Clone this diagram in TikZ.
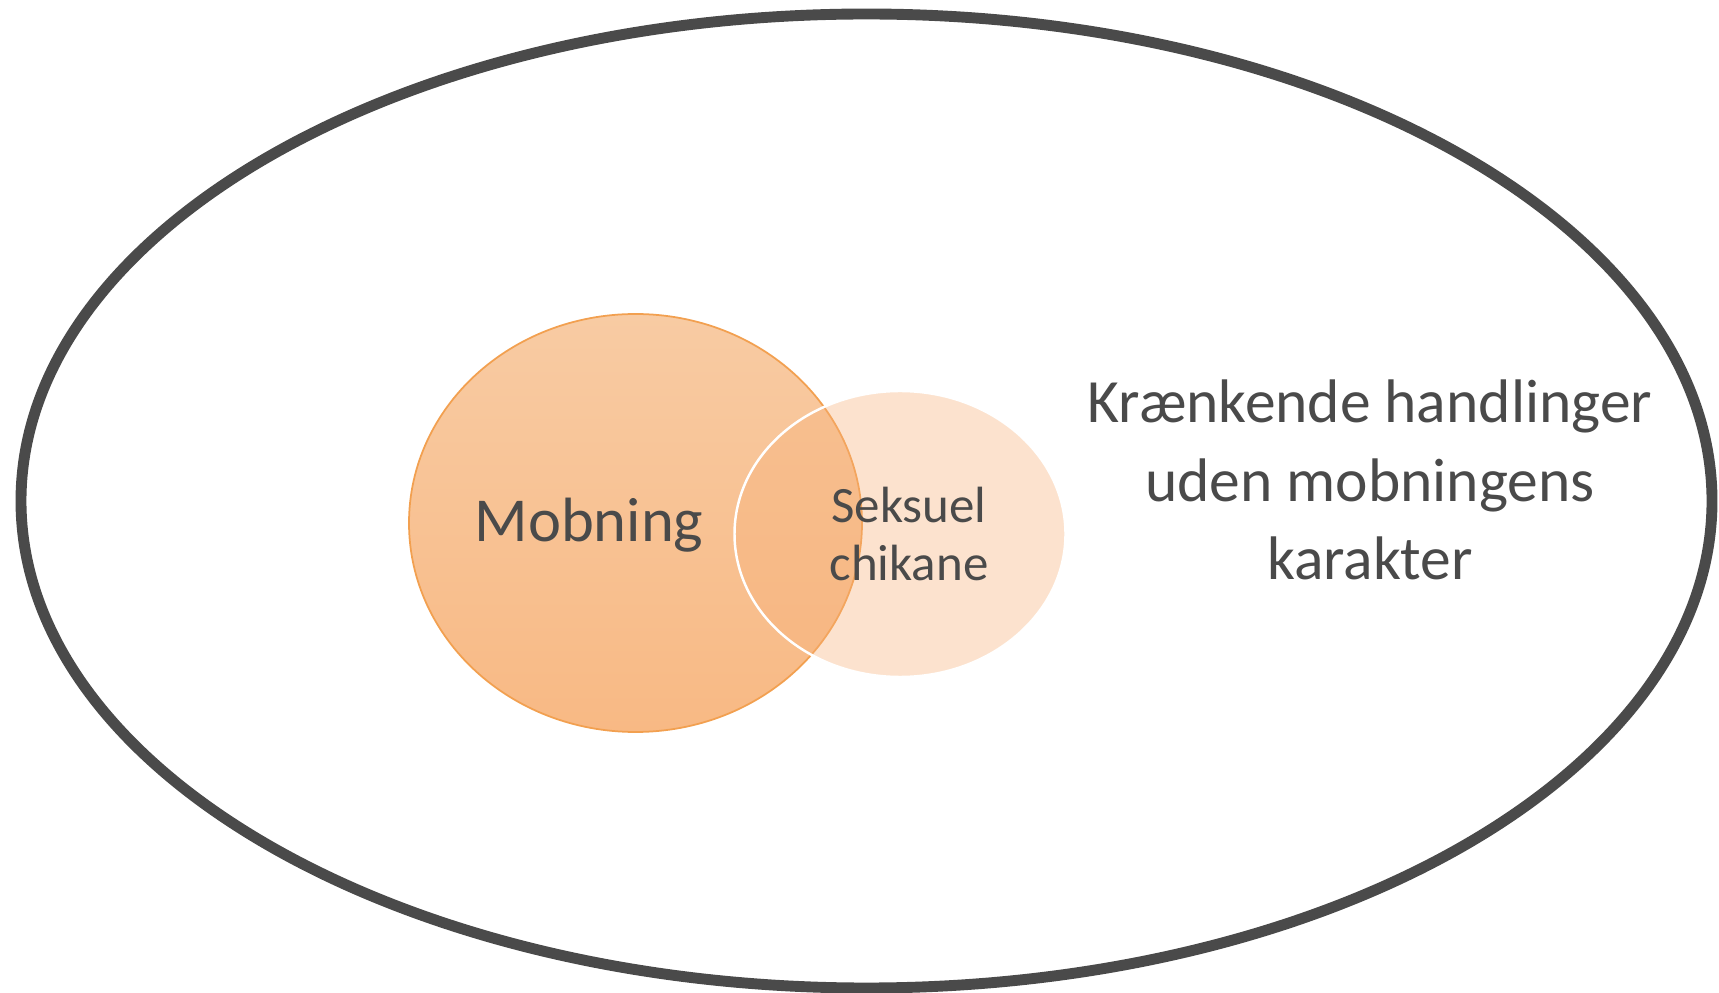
\documentclass[tikz,border=0pt]{standalone}
\usepackage{fontspec}
\setmainfont{Carlito}
\usetikzlibrary{shapes.geometric,positioning}

\definecolor{ringgray}{HTML}{4A4A4A}
\definecolor{mobtop}{HTML}{F8CBA3}
\definecolor{mobbot}{HTML}{F8B984}
\definecolor{mobedge}{HTML}{F2A050}
\definecolor{sekfill}{HTML}{F7B078}

\begin{document}
\begin{tikzpicture}[
  x=0.1mm, y=-0.1mm,
  ring/.style={ellipse, draw=ringgray, line width=3.1pt, inner sep=0pt},
  blob/.style={ellipse, inner sep=0pt},
  label/.style={align=center, text=ringgray, inner sep=0pt}
]
\useasboundingbox (0,0) rectangle (1719,993);

\node[ring, minimum width=1691*0.1mm, minimum height=974*0.1mm] (outer) at (866.5,501) {};

\node[blob, minimum width=453*0.1mm, minimum height=418*0.1mm,
  top color=mobtop, bottom color=mobbot, draw=mobedge, line width=0.5pt] (mob) at (635.5,523) {};
\node[blob, minimum width=331*0.1mm, minimum height=286*0.1mm,
  fill=sekfill, fill opacity=0.36, draw=white, line width=0.7pt] (sek) at (900,534) {};

\node[label, anchor=base, font=\fontsize{17.8}{21}\selectfont] (moblabel) at (589,542) {Mobning};
\node[label, font=\fontsize{14.5}{16.4}\selectfont] (seklabel) at (909,534) {Seksuel\\chikane};
\node[label, font=\fontsize{17.5}{22.4}\selectfont] (outlabel) at (1370,480) {Krænkende handlinger\\uden mobningens\\karakter};

\end{tikzpicture}
\end{document}
